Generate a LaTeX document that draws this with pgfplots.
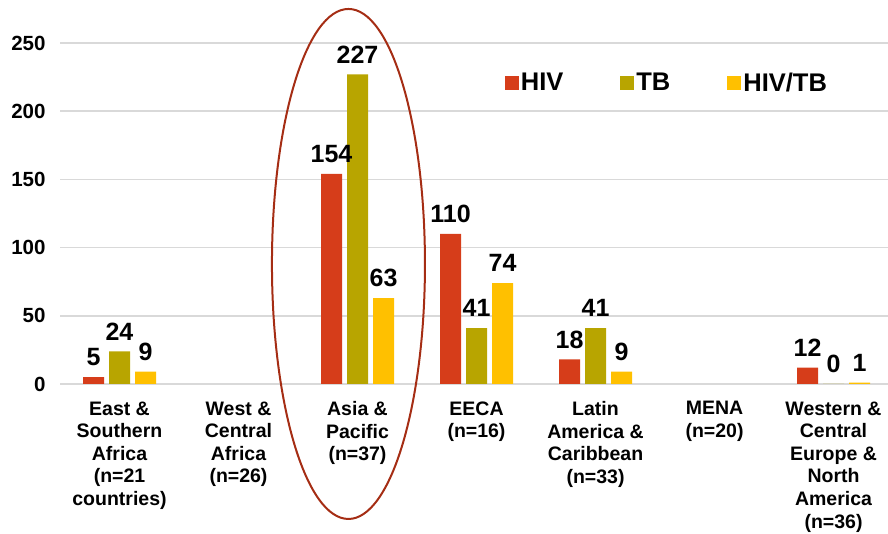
\documentclass[border=0pt]{standalone}
\usepackage{fontspec}
\setmainfont{Liberation Sans}
\usepackage{pgfplots}
\pgfplotsset{compat=1.18}
\definecolor{hiv}{RGB}{214,61,26}
\definecolor{tb}{RGB}{184,165,0}
\definecolor{hivtb}{RGB}{255,192,0}
\definecolor{ell}{RGB}{165,45,20}
\definecolor{gridc}{RGB}{217,217,217}
\begin{document}
\begin{tikzpicture}
\useasboundingbox (-60pt,-150pt) rectangle (828pt,384pt);
\begin{axis}[
  at={(0pt,0pt)}, anchor=south west,
  scale only axis, width=828pt, height=341pt,
  xmin=-0.5, xmax=6.458, ymin=0, ymax=250,
  clip=false,
  ybar=5pt, bar width=21pt,
  axis line style={draw=none},
  major tick length=0pt,
  ymajorgrids, grid style={gridc, line width=1.5pt},
  ytick={0,50,...,250},
  /pgf/number format/assume math mode=true,
  yticklabel style={font=\fontsize{20.5}{22}\selectfont\bfseries, xshift=-11pt},
  xtick={0,1,2,3,4,5,6},
  xticklabels={{East \&\\Southern\\Africa\\(n=21\\countries)},
    {West \&\\Central\\Africa\\(n=26)},
    {Asia \&\\Pacific\\(n=37)},
    {EECA\\(n=16)},
    {Latin\\America \&\\Caribbean\\(n=33)},
    {MENA\\(n=20)},
    {Western \&\\Central\\Europe \&\\North\\America\\(n=36)}},
  xticklabel style={font=\fontsize{19.5}{22.6}\selectfont\bfseries, align=center, yshift=-14pt},
  nodes near coords,
  every node near coord/.append style={font=\fontsize{25}{27}\selectfont\bfseries, anchor=south, inner sep=0pt, yshift=11pt, /pgf/number format/assume math mode=true},
  legend columns=3,
  legend style={draw=none, fill=none, inner sep=0pt, anchor=west, at={(0.537,0.883)},
    font=\fontsize{25.5}{27}\selectfont\bfseries,
    /tikz/every even column/.append style={column sep=55pt}},
  legend image code/.code={\fill[#1] (0pt,-7pt) rectangle (14pt,7pt);},
]
\addplot[fill=hiv, draw=none] coordinates {(0,5) (2,154) (3,110) (4,18) (6,12)};
\addplot[fill=tb, draw=none] coordinates {(0,24) (2,227) (3,41) (4,41) (6,0)};
\addplot[fill=hivtb, draw=none] coordinates {(0,9) (2,63) (3,74) (4,9) (6,1)};
\legend{HIV,TB,HIV/TB}
\draw[ell, line width=2pt] (axis cs:1.924,88) ellipse [x radius=76.5pt, y radius=255pt];
\end{axis}
\end{tikzpicture}
\end{document}
